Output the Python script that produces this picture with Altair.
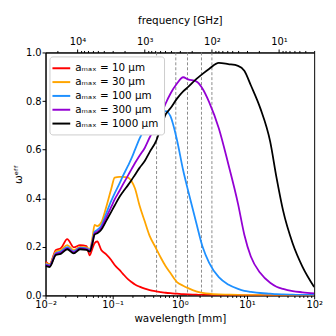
import altair as alt
import pandas as pd

# ---- data ----
wavelength_mm = [0.0100, 0.01148, 0.01429, 0.01687, 0.02104, 0.0263, 0.03266, 0.04074,
                 0.0455, 0.0501, 0.0537, 0.0589, 0.0676, 0.0794, 0.0955, 0.107, 0.126,
                 0.141, 0.170, 0.191, 0.215, 0.251, 0.300, 0.355, 0.442, 0.521, 0.615,
                 0.724, 0.906, 1.12, 1.33, 1.75, 2.18, 2.72, 3.80, 5.25, 7.35, 9.12,
                 11.4, 15.8, 22.1, 27.5, 34.4, 47.9, 66.8, 100.0]

omega_10um = [0.139, 0.128, 0.187, 0.194, 0.232, 0.198, 0.207, 0.203, 0.165, 0.195, 0.215,
              0.222, 0.187, 0.170, 0.145, 0.125, 0.105, 0.090, 0.066, 0.055, 0.045, 0.036,
              0.028, 0.022, 0.017, 0.014, 0.011, 0.009, 0.007, 0.005, 0.004, 0.003, 0.002,
              0.002, 0.001, 0.001, 0.001, 0.0, 0.0, 0.0, 0.0, 0.0, 0.0, 0.0, 0.0, 0.0]
omega_30um = [0.133, 0.128, 0.181, 0.187, 0.207, 0.186, 0.200, 0.198, 0.190, 0.240, 0.290,
              0.285, 0.300, 0.360, 0.440, 0.485, 0.488, 0.488, 0.485, 0.470, 0.440, 0.370,
              0.305, 0.245, 0.194, 0.155, 0.120, 0.092, 0.055, 0.040, 0.030, 0.017, 0.011,
              0.007, 0.004, 0.003, 0.002, 0.001, 0.001, 0.001, 0.0, 0.0, 0.0, 0.0, 0.0, 0.0]
omega_100um = [0.129, 0.124, 0.175, 0.181, 0.199, 0.181, 0.197, 0.194, 0.187, 0.225, 0.262,
               0.270, 0.287, 0.335, 0.390, 0.420, 0.460, 0.490, 0.535, 0.565, 0.600, 0.645,
               0.690, 0.742, 0.759, 0.745, 0.759, 0.738, 0.640, 0.515, 0.430, 0.300, 0.200,
               0.135, 0.075, 0.045, 0.027, 0.019, 0.015, 0.010, 0.007, 0.005, 0.004, 0.003,
               0.002, 0.002]
omega_300um = [0.126, 0.121, 0.171, 0.176, 0.194, 0.177, 0.194, 0.191, 0.184, 0.220, 0.255,
               0.262, 0.278, 0.318, 0.365, 0.395, 0.430, 0.455, 0.495, 0.520, 0.545, 0.575,
               0.607, 0.650, 0.700, 0.740, 0.790, 0.830, 0.872, 0.898, 0.889, 0.881, 0.851,
               0.797, 0.688, 0.542, 0.377, 0.250, 0.160, 0.092, 0.052, 0.036, 0.027, 0.018,
               0.013, 0.008]
omega_1000um = [0.122, 0.117, 0.167, 0.171, 0.190, 0.173, 0.190, 0.187, 0.180, 0.215, 0.250,
                0.256, 0.270, 0.305, 0.345, 0.370, 0.405, 0.425, 0.455, 0.475, 0.497, 0.525,
                0.553, 0.590, 0.635, 0.690, 0.745, 0.770, 0.810, 0.840, 0.858, 0.890, 0.912,
                0.932, 0.957, 0.952, 0.945, 0.925, 0.865, 0.770, 0.634, 0.485, 0.350, 0.214,
                0.119, 0.035]

series_labels = ["aₘₐₓ = 10 μm", "aₘₐₓ = 30 μm", "aₘₐₓ = 100 μm",
                 "aₘₐₓ = 300 μm", "aₘₐₓ = 1000 μm"]
series_colors = ["#ff0000", "#ffa500", "#1e90ff", "#9400d3", "#000000"]
series_values = [omega_10um, omega_30um, omega_100um, omega_300um, omega_1000um]

band_wavelengths_mm = [0.45, 0.87, 1.3, 2.1, 3.0]

bottom_major = [0.01, 0.1, 1, 10, 100]
bottom_minor = [k * d for d in [0.01, 0.1, 1, 10] for k in range(2, 10)]
top_major = [10, 100, 1000, 10000]
top_minor = [3, 4, 5, 6, 7, 8, 9, 20, 30, 40, 50, 60, 70, 80, 90,
             200, 300, 400, 500, 600, 700, 800, 900,
             2000, 3000, 4000, 5000, 6000, 7000, 8000, 9000, 20000]

C_MM_GHZ = 299.792458  # c in mm*GHz

rows = []
for lab, vals in zip(series_labels, series_values):
    for w, v in zip(wavelength_mm, vals):
        rows.append({"wavelength": w, "omega": v, "series": lab})
df = pd.DataFrame(rows)

xscale = alt.Scale(type="log", domain=[0.01, 100], nice=False)
fscale = alt.Scale(type="log", domain=[C_MM_GHZ / 100, C_MM_GHZ / 0.01], reverse=True, nice=False)

bottom_expr = ("datum.value < 0.05 ? '10⁻²' : datum.value < 0.5 ? '10⁻¹' : "
               "datum.value < 5 ? '10⁰' : datum.value < 50 ? '10¹' : '10²'")
top_expr = ("datum.value < 50 ? '10¹' : datum.value < 500 ? '10²' : "
            "datum.value < 5000 ? '10³' : '10⁴'")

lines = alt.Chart(df).mark_line(strokeWidth=1.8, clip=True, interpolate="monotone").encode(
    x=alt.X("wavelength:Q", scale=xscale,
            axis=alt.Axis(orient="bottom", values=bottom_major, labelExpr=bottom_expr,
                          title="wavelength [mm]", tickSize=3.5, labelFlush=False,
                          labelOverlap=False, grid=False, labelPadding=1, titlePadding=4)),
    y=alt.Y("omega:Q", scale=alt.Scale(domain=[0, 1], nice=False),
            axis=alt.Axis(values=[0, 0.2, 0.4, 0.6, 0.8, 1.0], format=".1f",
                          title="ωᵉᶠᶠ", tickSize=3.5, grid=False, labelFlush=False,
                          labelPadding=1, titlePadding=2)),
    color=alt.Color("series:N", sort=series_labels,
                    scale=alt.Scale(domain=series_labels, range=series_colors),
                    legend=alt.Legend(title="", orient="none", legendX=4, legendY=4,
                                      symbolType="M-1.5,0L1.5,0", symbolStrokeWidth=2,
                                      symbolSize=144, labelFontSize=10.5, padding=5,
                                      rowPadding=1, fillColor="white",
                                      strokeColor="#cccccc", cornerRadius=3,
                                      labelOffset=7)),
)

rules = alt.Chart(pd.DataFrame({"band_mm": band_wavelengths_mm})).mark_rule(
    color="#808080", strokeDash=[3, 2], strokeWidth=0.9
).encode(x=alt.X("band_mm:Q", scale=xscale, axis=None))

minor_bottom = alt.Chart(pd.DataFrame({"w": bottom_minor})).mark_point(opacity=0).encode(
    x=alt.X("w:Q", scale=xscale,
            axis=alt.Axis(orient="bottom", values=bottom_minor, labels=False, tickSize=2,
                          domain=False, title="", grid=False))
)

top_axis = alt.Chart(pd.DataFrame({"f": top_major})).mark_point(opacity=0).encode(
    x=alt.X("f:Q", scale=fscale,
            axis=alt.Axis(orient="top", values=top_major, labelExpr=top_expr,
                          title="frequency [GHz]", tickSize=3.5, labelFlush=False,
                          labelOverlap=False, grid=False, labelPadding=3, titlePadding=11))
)

minor_top = alt.Chart(pd.DataFrame({"f": top_minor})).mark_point(opacity=0).encode(
    x=alt.X("f:Q", scale=fscale,
            axis=alt.Axis(orient="top", values=top_minor, labels=False, tickSize=2,
                          domain=False, title="", grid=False))
)

chart = alt.layer(rules, lines, minor_bottom, top_axis, minor_top).resolve_scale(
    x="independent"
).properties(
    width=324, height=323,
    autosize=alt.AutoSizeParams(type="fit", contains="padding"),
).configure(
    font="DejaVu Sans",
).configure_axis(
    domainColor="black", tickColor="black", labelColor="black", titleColor="black",
    labelFontSize=10, titleFontSize=10.5, titleFontWeight="normal", domainWidth=1,
).configure_legend(
    labelColor="black",
).configure_view(
    stroke="black", strokeWidth=1,
)

chart.save("out.html", embed_options={"renderer": "svg", "actions": False})
